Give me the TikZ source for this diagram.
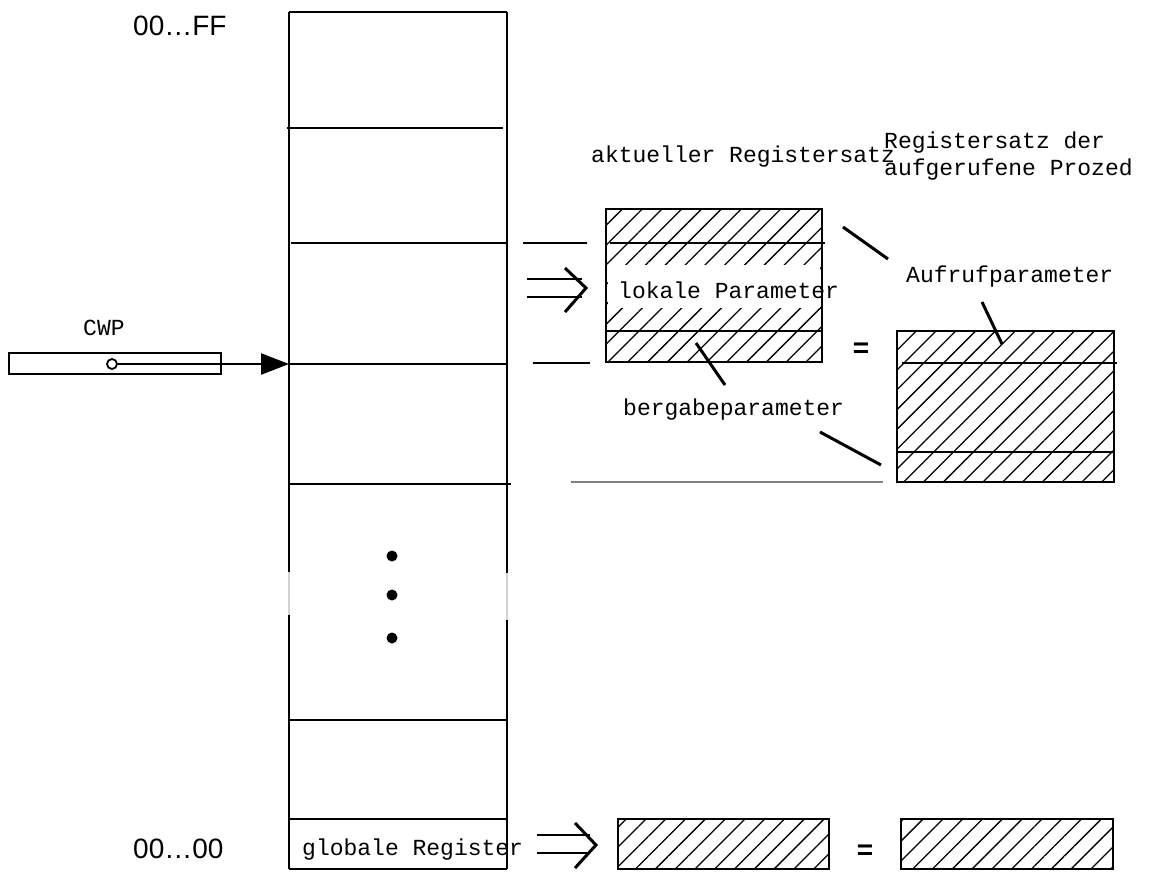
\documentclass[tikz,border=0pt]{standalone}
\usepackage{fontspec}
\setmonofont{Liberation Mono}
\newfontfamily\addrfont{Liberation Sans}
\usetikzlibrary{arrows.meta,patterns.meta}
\tikzset{
  lbl/.style={font=\ttfamily\fontsize{23}{27}\selectfont,inner sep=0pt,anchor=base west},
  addr/.style={font=\addrfont\fontsize{28}{32}\selectfont,inner sep=0pt,anchor=base west},
  hatchfill/.style={pattern={Lines[angle=45,distance=14pt,line width=1.3pt]}},
  leader/.style={line width=3pt},
  thinline/.style={line width=1.2pt}
}
\begin{document}
\begin{tikzpicture}[x=1pt,y=-1pt,line width=2.4pt]
  \useasboundingbox (0,0) rectangle (1151,871);
  % register file
  \draw (289,12) -- (507,12) (289,869) -- (507,869);
  \draw (289,12) -- (289,572) (289,615) -- (289,869);
  \draw (507,12) -- (507,573) (507,620) -- (507,869);
  \draw[gray!35,thinline] (289,572) -- (289,615) (507,573) -- (507,620);
  \draw (287,128) -- (503,128);
  \draw (291,243) -- (507,243);
  \draw (289,364) -- (507,364);
  \draw (289,484) -- (511,484);
  \draw (289,720) -- (507,720);
  \draw (289,819) -- (507,819);
  \foreach \y in {556,595,638} \fill (392,\y) circle (5.5);
  \node[addr] (ff) at (132,35) {00…FF};
  \node[addr] (null) at (132,858) {00…00};
  \node[lbl] (glob) at (301,855) {globale Register};
  % current window pointer
  \node[lbl] (cwp) at (82,335) {CWP};
  \draw (9,353) rectangle (221,374);
  \node[circle,draw,line width=1.8pt,fill=white,inner sep=0pt,minimum size=10pt] (ptr) at (112,364) {};
  \coordinate (win) at (289,364);
  \draw[-{Triangle[length=28pt,width=21pt]}] (ptr) -- (win);
  % aktueller Registersatz
  \node[lbl] (akt) at (590,162) {aktueller Registersatz};
  \fill[hatchfill] (606,209) rectangle (822,362);
  \fill[white] (608,265) rectangle (820,308);
  \draw (606,209) rectangle (822,362);
  \draw (610,243) -- (825,243);
  \draw (606,331) -- (822,331);
  \node[lbl] (lokal) at (617,298) {lokale Parameter};
  \draw[thinline] (523,243) -- (587,243);
  \draw[thinline] (533,363) -- (590,363);
  \draw (527,279) -- (582,279) (527,297) -- (582,297);
  \draw[line width=3pt] (565,268) -- (586,288) -- (565,312);
  % Registersatz der aufgerufenen Prozedur
  \node[lbl] (neu) at (883,148) {Registersatz der};
  \begin{scope}
    \clip (870,150) rectangle (1135,190);
    \node[lbl] (proz) at (883,175) {aufgerufene Prozed};
  \end{scope}
  \fill[hatchfill] (897,331) rectangle (1114,482);
  \draw (897,331) rectangle (1114,482);
  \draw (902,363) -- (1117,363);
  \draw (897,452) -- (1114,452);
  \draw[gray,line width=1.5pt] (571,482) -- (883,482);
  \node[addr,anchor=base] (eq1) at (861,357) {\bfseries =};
  % labels with leaders
  \node[lbl] (aufruf) at (905,282) {Aufrufparameter};
  \node[lbl] (ueber) at (622,415) {bergabeparameter};
  \coordinate (a1) at (843,227); \coordinate (a2) at (888,259);
  \coordinate (a3) at (982,302); \coordinate (a4) at (1002,344);
  \coordinate (b1) at (696,343); \coordinate (b2) at (725,385);
  \coordinate (b3) at (820,432); \coordinate (b4) at (881,465);
  \draw[leader] (a1) -- (a2) (a3) -- (a4);
  \draw[leader] (b1) -- (b2) (b3) -- (b4);
  % globale Register
  \draw (537,835) -- (590,835) (537,853) -- (590,853);
  \draw[line width=3pt] (575,823) -- (596,845) -- (575,868);
  \fill[hatchfill] (618,819) rectangle (829,869);
  \draw (618,819) rectangle (829,869);
  \node[addr,anchor=base] (eq2) at (865,859) {\bfseries =};
  \fill[hatchfill] (901,819) rectangle (1113,869);
  \draw (901,819) rectangle (1113,869);
\end{tikzpicture}
\end{document}
